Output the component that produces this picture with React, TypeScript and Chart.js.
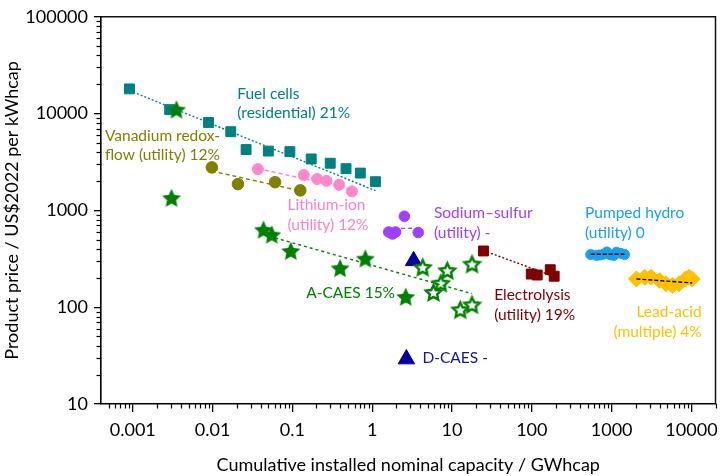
import React, { useEffect, useRef } from 'react';
import { Chart, registerables } from 'chart.js';

Chart.register(...registerables);

// Cumulative installed nominal capacity (GWh) and product price (US$2022 per kWh)
const fuelCellsCap = [0.00091, 0.0029, 0.0089, 0.0169, 0.0263, 0.05, 0.093, 0.172, 0.298, 0.47, 0.71, 1.1];
const fuelCellsPrice = [18000, 11000, 8100, 6500, 4250, 4100, 4050, 3400, 3070, 2700, 2430, 1980];
const fuelCellsTrendCap = [0.00091, 1.1];
const fuelCellsTrendPrice = [17300, 1600];

const vanadiumCap = [0.0098, 0.0208, 0.0607, 0.1256];
const vanadiumPrice = [2780, 1870, 1955, 1610];
const vanadiumTrendCap = [0.0098, 0.1256];
const vanadiumTrendPrice = [2550, 1590];

const lithiumCap = [0.037, 0.139, 0.204, 0.268, 0.385, 0.557];
const lithiumPrice = [2670, 2320, 2110, 2020, 1840, 1570];
const lithiumTrendCap = [0.037, 0.557];
const lithiumTrendPrice = [2700, 1650];

const sodiumCap = [1.61, 1.8, 1.96, 2.53, 3.77];
const sodiumPrice = [598, 571, 598, 869, 591];
const sodiumTrendCap = [2.3, 3.4];
const sodiumTrendPrice = [650, 655];

const hydroCap = [546, 650, 710, 790, 870, 960, 1060, 1150, 1300, 1450];
const hydroPrice = [350, 343, 346, 352, 372, 347, 343, 370, 360, 350];
const hydroTrendCap = [546, 1450];
const hydroTrendPrice = [352, 352];

const leadAcidCap = [2040, 2590, 3120, 3960, 4780, 5780, 6990, 8430, 9290, 10200];
const leadAcidPrice = [196, 204, 204, 189, 175, 168, 175, 196, 204, 196];
const leadAcidTrendCap = [2040, 10200];
const leadAcidTrendPrice = [196, 178];

const electrolysisCap = [24.8, 98.3, 116.7, 170, 190.5];
const electrolysisPrice = [381, 220, 215, 244, 209];
const electrolysisTrendCap = [24.8, 190];
const electrolysisTrendPrice = [385, 207];

const aCaesCap = [0.00353, 0.00306, 0.0435, 0.0551, 0.0955, 0.396, 0.82, 2.63];
const aCaesPrice = [11000, 1346, 631, 561, 381, 253, 318, 128];
const aCaesPlannedCap = [4.29, 8.73, 7.25, 5.86, 17.8, 12.7, 17.8];
const aCaesPlannedPrice = [258, 239, 177, 142, 279, 94, 106];
const aCaesTrendCap = [0.0435, 17.8];
const aCaesTrendPrice = [562, 138];

const dCaesCap = [3.3, 2.68];
const dCaesPrice = [301, 29.1];

// Axis ticks
const xMajorTicks = [0.001, 0.01, 0.1, 1, 10, 100, 1000, 10000];
const yMajorTicks = [10, 100, 1000, 10000, 100000];

// Technology labels: text lines, anchor capacity, anchor price, alignment, colour
const labelLines = [
  ['Fuel cells', '(residential) 21%'],
  ['Vanadium redox-', 'flow (utility) 12%'],
  ['Lithium-ion', '(utility) 12%'],
  ['Sodium\u2013sulfur', '(utility) -'],
  ['Pumped hydro', '(utility) 0'],
  ['A-CAES 15%'],
  ['D-CAES -'],
  ['Electrolysis', '(utility) 19%'],
  ['Lead-acid', '(multiple) 4%'],
];
const labelCap = [0.0204, 0.000448, 0.0867, 5.94, 464, 0.149, 4.26, 33.7, 13430];
const labelPrice = [16030, 5915, 1132, 933, 933, 141, 30.2, 133, 88.5];
const labelAlign = ['left', 'left', 'left', 'left', 'left', 'left', 'left', 'left', 'right'];
const labelColor = ['#008080', '#808000', '#ff80c8', '#a040ff', '#18a0ee', '#008000', '#141496', '#800000', '#ffc000'];

const FONT = 'Lato';

const pts = (xs: number[], ys: number[]) => xs.map((x, i) => ({ x, y: ys[i] }));

function makeStar(fill: string, stroke: string, R: number, lw: number) {
  const size = Math.ceil(2 * R + lw + 2);
  const c = document.createElement('canvas');
  c.width = size;
  c.height = size;
  const ctx = c.getContext('2d')!;
  const cx = size / 2;
  const cy = size / 2 + R * 0.08;
  const r = R * 0.48;
  ctx.beginPath();
  for (let i = 0; i < 10; i++) {
    const rad = i % 2 === 0 ? R : r;
    const a = -Math.PI / 2 + (i * Math.PI) / 5;
    const px = cx + rad * Math.cos(a);
    const py = cy + rad * Math.sin(a);
    if (i === 0) ctx.moveTo(px, py);
    else ctx.lineTo(px, py);
  }
  ctx.closePath();
  ctx.fillStyle = fill;
  ctx.fill();
  if (lw > 0) {
    ctx.lineJoin = 'miter';
    ctx.lineWidth = lw;
    ctx.strokeStyle = stroke;
    ctx.stroke();
  }
  return c;
}

const minorTicks = {
  id: 'minorTicks',
  afterDraw(chart: any) {
    const { ctx } = chart;
    const xs = chart.scales.x;
    const ys = chart.scales.y;
    ctx.save();
    ctx.strokeStyle = '#000';
    ctx.lineWidth = 1.2;
    for (let d = -5; d <= 5; d++) {
      for (let k = 2; k <= 9; k++) {
        const v = k * Math.pow(10, d);
        if (v > xs.min && v <= xs.max) {
          const px = Math.round(xs.getPixelForValue(v)) + 0.5;
          ctx.beginPath();
          ctx.moveTo(px, xs.top);
          ctx.lineTo(px, xs.top + 4.5);
          ctx.stroke();
        }
        if (v > ys.min && v < ys.max) {
          const py = Math.round(ys.getPixelForValue(v)) + 0.5;
          ctx.beginPath();
          ctx.moveTo(ys.right, py);
          ctx.lineTo(ys.right - 4.5, py);
          ctx.stroke();
        }
      }
    }
    // frame on top and right of the plot area
    const a = chart.chartArea;
    ctx.lineWidth = 1.5;
    ctx.strokeStyle = '#111';
    ctx.beginPath();
    ctx.moveTo(a.left, a.top);
    ctx.lineTo(a.right, a.top);
    ctx.lineTo(a.right, a.bottom);
    ctx.stroke();
    ctx.restore();
  },
};

const techLabels = {
  id: 'techLabels',
  afterDraw(chart: any) {
    const { ctx } = chart;
    const xs = chart.scales.x;
    const ys = chart.scales.y;
    ctx.save();
    ctx.font = `15.5px ${FONT}`;
    ctx.textBaseline = 'middle';
    labelLines.forEach((lines, i) => {
      const px = xs.getPixelForValue(labelCap[i]);
      const py = ys.getPixelForValue(labelPrice[i]);
      ctx.fillStyle = labelColor[i];
      ctx.textAlign = labelAlign[i];
      lines.forEach((t, j) => ctx.fillText(t, px, py + j * 19.5));
    });
    ctx.restore();
  },
};

export default function App() {
  const ref = useRef<HTMLCanvasElement>(null);

  useEffect(() => {
    document.body.style.margin = '0';
    const filledStar = makeStar('#008000', '#008000', 10, 0);
    const openStar = makeStar('#ffffff', '#008000', 8, 2.4);

    const trend = (xs: number[], ys: number[], color: string, dash: number[]) => ({
      type: 'line' as const,
      data: pts(xs, ys),
      showLine: true,
      borderColor: color,
      borderWidth: 1.4,
      borderDash: dash,
      pointRadius: 0,
      fill: false,
      order: 0,
    });
    const marks = (xs: number[], ys: number[], color: string, style: any, radius: number, order = 2) => ({
      type: 'scatter' as const,
      data: pts(xs, ys),
      pointStyle: style,
      pointRadius: radius,
      backgroundColor: color,
      borderColor: color,
      borderWidth: 1,
      order,
    });

    const datasets: any[] = [
      trend(fuelCellsTrendCap, fuelCellsTrendPrice, '#008080', [2, 2]),
      trend(vanadiumTrendCap, vanadiumTrendPrice, '#808000', [4, 3]),
      trend(lithiumTrendCap, lithiumTrendPrice, '#ff80c8', [4, 3]),
      trend(sodiumTrendCap, sodiumTrendPrice, '#a040ff', [4, 3]),
      trend(hydroTrendCap, hydroTrendPrice, '#000000', [4, 2]),
      trend(leadAcidTrendCap, leadAcidTrendPrice, '#000000', [4, 2]),
      trend(electrolysisTrendCap, electrolysisTrendPrice, '#800000', [2, 2]),
      trend(aCaesTrendCap, aCaesTrendPrice, '#008000', [3, 3]),
      marks(fuelCellsCap, fuelCellsPrice, '#008080', 'rect', 7, 3),
      marks(vanadiumCap, vanadiumPrice, '#808000', 'circle', 5.8),
      marks(lithiumCap, lithiumPrice, '#ff88cc', 'circle', 5.5),
      marks(sodiumCap, sodiumPrice, '#a040ff', 'circle', 5.3),
      marks(hydroCap, hydroPrice, '#18a0ee', 'circle', 5),
      marks(leadAcidCap, leadAcidPrice, '#ffc000', 'rectRot', 8),
      marks(electrolysisCap, electrolysisPrice, '#800000', 'rect', 7),
      marks(dCaesCap, dCaesPrice, '#000099', 'triangle', 9.5, 2),
      marks(aCaesCap, aCaesPrice, '#008000', filledStar, 9, 1),
      marks(aCaesPlannedCap, aCaesPlannedPrice, '#008000', openStar, 9, 1),
    ];

    const tickFont = { family: FONT, size: 18 };
    const chart = new Chart(ref.current!, {
      type: 'scatter',
      data: { datasets },
      options: {
        animation: false,
        responsive: false,
        maintainAspectRatio: false,
        layout: { padding: { top: 10, right: 3, left: 0, bottom: 0 } },
        plugins: { legend: { display: false }, tooltip: { enabled: false } },
        scales: {
          x: {
            type: 'logarithmic',
            position: 'bottom',
            min: 0.0004,
            max: 20000,
            afterBuildTicks: (s: any) => {
              s.ticks = xMajorTicks.map((v) => ({ value: v }));
            },
            afterFit: (s: any) => {
              s.height = 72;
            },
            grid: { display: true, drawOnChartArea: false, drawTicks: true, tickLength: 8, color: '#000', lineWidth: 1.3 },
            border: { display: true, color: '#000', width: 1.6 },
            ticks: {
              color: '#000',
              font: tickFont,
              padding: 7,
              maxRotation: 0,
              autoSkip: false,
              callback: (v: any) => String(v),
            },
            title: {
              display: true,
              text: 'Cumulative installed nominal capacity / GWhcap',
              color: '#000',
              font: tickFont,
              padding: { top: 0, bottom: 0 },
            },
          },
          y: {
            type: 'logarithmic',
            position: 'left',
            min: 10,
            max: 100000,
            afterBuildTicks: (s: any) => {
              s.ticks = yMajorTicks.map((v) => ({ value: v }));
            },
            afterFit: (s: any) => {
              s.width = 101;
            },
            grid: { display: true, drawOnChartArea: false, drawTicks: true, tickLength: 7, color: '#000', lineWidth: 1.3 },
            border: { display: true, color: '#000', width: 1.6 },
            ticks: {
              color: '#000',
              font: tickFont,
              padding: 6,
              autoSkip: false,
              callback: (v: any) => String(v),
            },
            title: {
              display: true,
              text: 'Product price / US$2022 per kWhcap',
              color: '#000',
              font: tickFont,
              padding: { top: 1, bottom: 0 },
            },
          },
        },
      },
      plugins: [minorTicks, techLabels],
    });
    return () => chart.destroy();
  }, []);

  return <canvas ref={ref} width={726} height={476} style={{ display: 'block' }} />;
}
